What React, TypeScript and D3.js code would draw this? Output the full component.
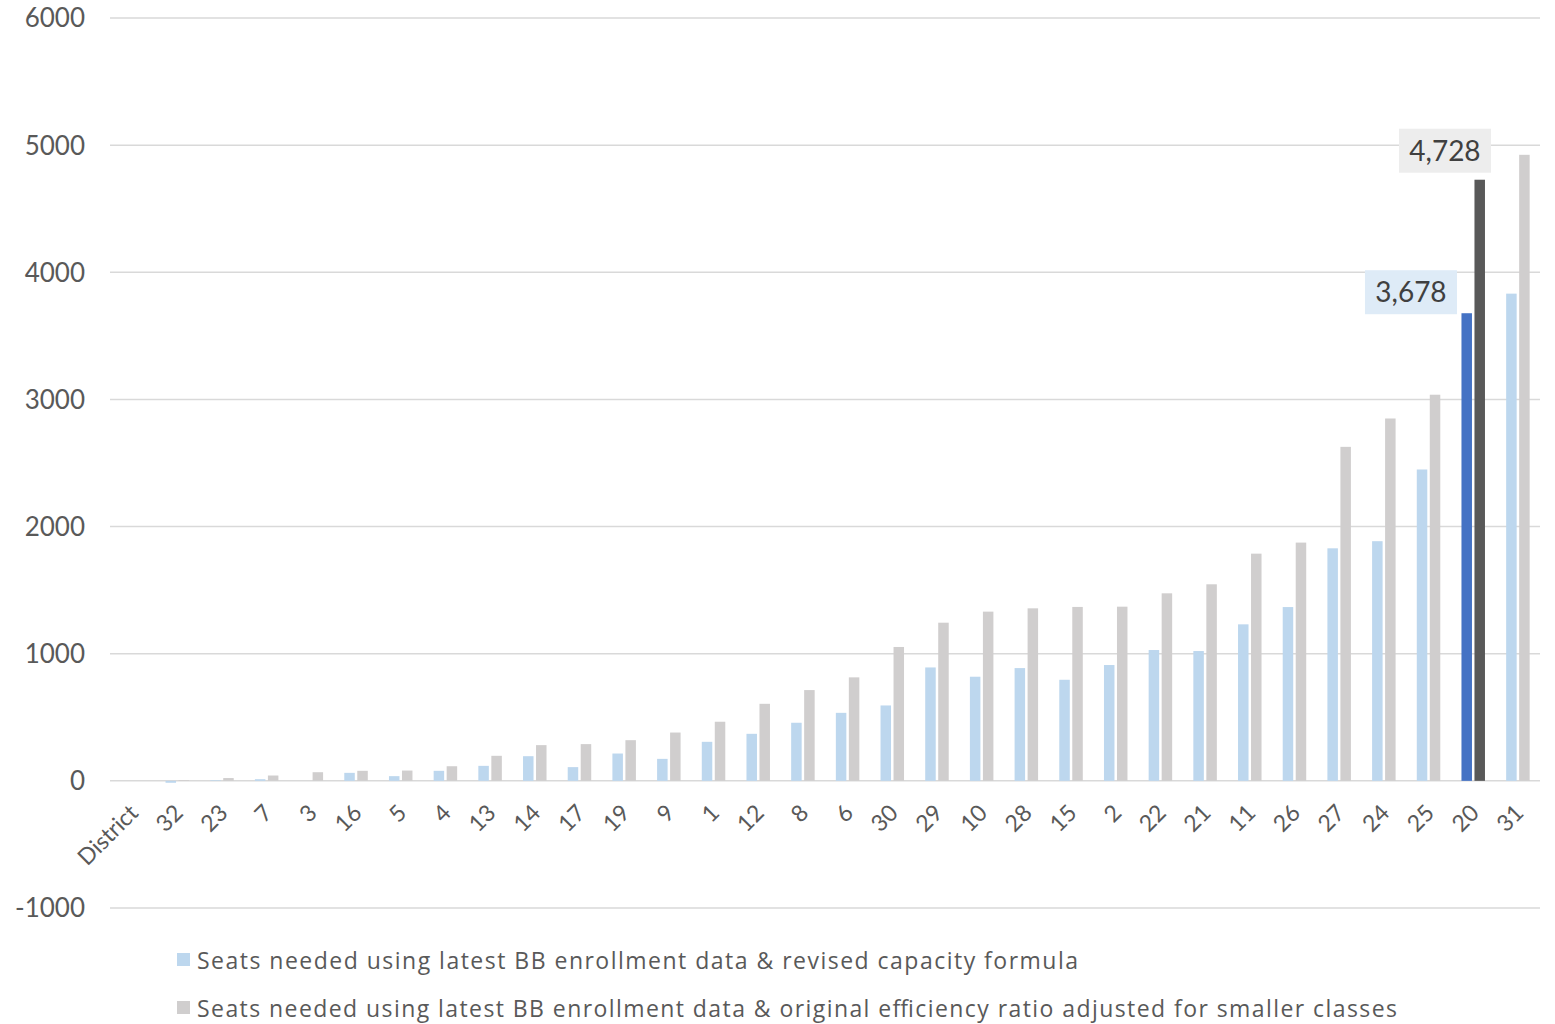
import React from "react";
import * as d3 from "d3";

const categories = ["District", "32", "23", "7", "3", "16", "5", "4", "13", "14", "17", "19", "9", "1", "12", "8", "6", "30", "29", "10", "28", "15", "2", "22", "21", "11", "26", "27", "24", "25", "20", "31"];
const revisedSeats: (number | null)[] = [null, -15, 5, 13, 0, 63, 37, 79, 118, 194, 108, 215, 173, 307, 370, 457, 535, 593, 892, 819, 887, 795, 911, 1029, 1021, 1231, 1367, 1829, 1885, 2449, 3678, 3832];
const originalSeats: (number | null)[] = [null, 6, 22, 42, 68, 79, 81, 115, 197, 281, 289, 320, 380, 465, 606, 714, 814, 1053, 1244, 1331, 1357, 1368, 1370, 1475, 1546, 1787, 1874, 2627, 2850, 3037, 4728, 4924];
const yTicks = [-1000, 0, 1000, 2000, 3000, 4000, 5000, 6000];
const highlightCategory = "20";
const legendLabels = [
  "Seats needed using latest BB enrollment data & revised capacity formula",
  "Seats needed using latest BB enrollment data & original efficiency ratio adjusted for smaller classes",
];
const legendWidths = [881, 1200];

const W = 1555;
const H = 1024;
const FONT = "Lato, 'Open Sans', sans-serif";
const LEGEND_FONT = "'Open Sans', Lato, sans-serif";

export default function App() {
  const x = d3.scaleBand<string>().domain(categories).range([110, 1540]).padding(0);
  const y = d3.scaleLinear().domain([-1000, 6000]).range([908, 18]);
  const bw = 10.5;
  const fmt = d3.format(",");
  const hi = categories.indexOf(highlightCategory);
  const hcx = (x(highlightCategory) as number) + x.bandwidth() / 2;

  return (
    <svg width={W} height={H} style={{ position: "absolute", left: 0, top: 0, background: "#fff" }}>
      <g>
        {yTicks.map((t) => (
          <g key={t}>
            <line x1={110} x2={1540} y1={y(t)} y2={y(t)} stroke="#D9D9D9" strokeWidth={1.5} />
            <text x={85} y={y(t)} dy="0.36em" textAnchor="end" fontFamily={FONT} fontSize={26} fill="#595959">
              {t}
            </text>
          </g>
        ))}
      </g>
      <g>
        {categories.map((c, i) => {
          const cx = (x(c) as number) + x.bandwidth() / 2;
          const b = revisedSeats[i];
          const g = originalSeats[i];
          const isHi = c === highlightCategory;
          return (
            <g key={c}>
              {b !== null && (
                <rect x={cx - 11.5} width={bw} y={Math.min(y(b), y(0))} height={Math.abs(y(b) - y(0))} fill={isHi ? "#4472C4" : "#BDD7EE"} />
              )}
              {g !== null && (
                <rect x={cx + 1.5} width={bw} y={Math.min(y(g), y(0))} height={Math.abs(y(g) - y(0))} fill={isHi ? "#595959" : "#D0CECE"} />
              )}
              <text transform={`translate(${cx + 1},${808}) rotate(-45)`} textAnchor="end" dominantBaseline="central" fontFamily={FONT} fontSize={23} fill="#595959">
                {c}
              </text>
            </g>
          );
        })}
      </g>
      {hi >= 0 && (
        <g fontFamily={FONT} fontSize={28} fill="#404040">
          <rect x={hcx - 74} y={y(originalSeats[hi] as number) - 51} width={92} height={44} fill="#EDEDED" />
          <text x={hcx - 28} y={y(originalSeats[hi] as number) - 29} dy="0.36em" textAnchor="middle">
            {fmt(originalSeats[hi] as number)}
          </text>
          <rect x={hcx - 108} y={y(revisedSeats[hi] as number) - 43} width={92} height={44} fill="#DEEBF7" />
          <text x={hcx - 62} y={y(revisedSeats[hi] as number) - 21} dy="0.36em" textAnchor="middle">
            {fmt(revisedSeats[hi] as number)}
          </text>
        </g>
      )}
      <g fontFamily={LEGEND_FONT} fontSize={23} fill="#595959">
        {legendLabels.map((l, i) => (
          <g key={i}>
            <rect x={177} y={953 + i * 48} width={13} height={13} fill={i === 0 ? "#BDD7EE" : "#D0CECE"} />
            <text x={197} y={969 + i * 48} textLength={legendWidths[i]} lengthAdjust="spacing">{l}</text>
          </g>
        ))}
      </g>
    </svg>
  );
}
